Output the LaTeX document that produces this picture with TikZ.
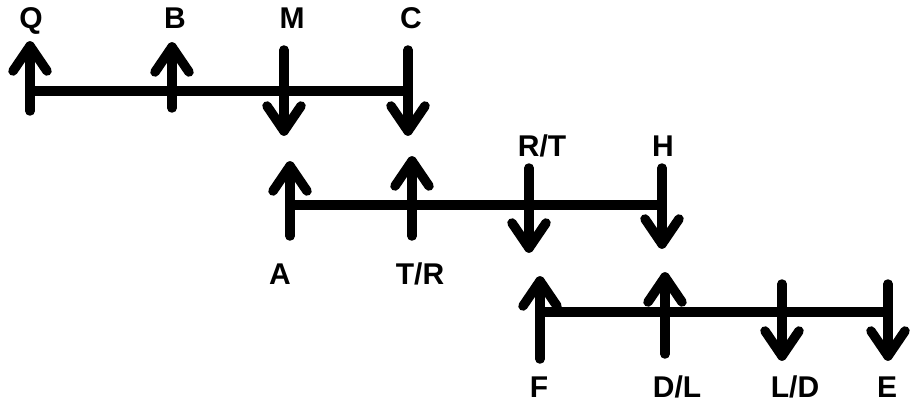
\documentclass[tikz,border=0pt]{standalone}
\usepackage{fontspec}
\setmainfont{Liberation Sans}
\begin{document}
\begin{tikzpicture}[x=1pt,y=-1pt,
  stroke/.style={line width=9.5pt,line cap=round,line join=round},
  lbl/.style={font=\bfseries\fontsize{30}{30}\selectfont,anchor=base,inner sep=0pt}]
\useasboundingbox (0,0) rectangle (914,404);
\tikzset{
  uparrow/.pic={\draw[stroke] (0,0) -- ++(-17,25) (0,0) -- ++(17,25);},
  downarrow/.pic={\draw[stroke] (0,0) -- ++(-17,-25) (0,0) -- ++(17,-25);}
}
% labels
\node[lbl] (lQ) at (31,29) {Q};
\node[lbl] (lB) at (175,29) {B};
\node[lbl] (lM) at (292,29) {M};
\node[lbl] (lC) at (411,29) {C};
\node[lbl] (lRT) at (542,156) {R/T};
\node[lbl] (lH) at (663,156) {H};
\node[lbl] (lA) at (280,284) {A};
\node[lbl] (lTR) at (420,284) {T/R};
\node[lbl] (lF) at (539,397) {F};
\node[lbl] (lDL) at (677,397) {D/L};
\node[lbl] (lLD) at (795,397) {L/D};
\node[lbl] (lE) at (887,397) {E};
% row 1
\coordinate (q1) at (30,111); \coordinate (q2) at (30,46);
\coordinate (b1) at (172,108); \coordinate (b2) at (172,47);
\coordinate (m1) at (284,50); \coordinate (m2) at (284,131);
\coordinate (c1) at (408,50); \coordinate (c2) at (408,131);
\coordinate (r1s) at (30,91); \coordinate (r1e) at (408,91);
\draw[stroke] (r1s) -- (r1e);
\draw[stroke] (q1) -- (q2); \pic at (q2) {uparrow};
\draw[stroke] (b1) -- (b2); \pic at (b2) {uparrow};
\draw[stroke] (m1) -- (m2); \pic at (m2) {downarrow};
\draw[stroke] (c1) -- (c2); \pic at (c2) {downarrow};
% row 2
\coordinate (a1) at (290,236); \coordinate (a2) at (290,166);
\coordinate (t1) at (412,236); \coordinate (t2) at (412,161);
\coordinate (rt1) at (529,168); \coordinate (rt2) at (529,248);
\coordinate (h1) at (662,168); \coordinate (h2) at (662,244);
\coordinate (r2s) at (290,205); \coordinate (r2e) at (662,205);
\draw[stroke] (r2s) -- (r2e);
\draw[stroke] (a1) -- (a2); \pic at (a2) {uparrow};
\draw[stroke] (t1) -- (t2); \pic at (t2) {uparrow};
\draw[stroke] (rt1) -- (rt2); \pic at (rt2) {downarrow};
\draw[stroke] (h1) -- (h2); \pic at (h2) {downarrow};
% row 3
\coordinate (f1) at (540,359); \coordinate (f2) at (540,281);
\coordinate (d1) at (665,354); \coordinate (d2) at (665,277);
\coordinate (l1) at (782,284); \coordinate (l2) at (782,356);
\coordinate (e1) at (888,284); \coordinate (e2) at (888,356);
\coordinate (r3s) at (540,312); \coordinate (r3e) at (888,312);
\draw[stroke] (r3s) -- (r3e);
\draw[stroke] (f1) -- (f2); \pic at (f2) {uparrow};
\draw[stroke] (d1) -- (d2); \pic at (d2) {uparrow};
\draw[stroke] (l1) -- (l2); \pic at (l2) {downarrow};
\draw[stroke] (e1) -- (e2); \pic at (e2) {downarrow};
\end{tikzpicture}
\end{document}
